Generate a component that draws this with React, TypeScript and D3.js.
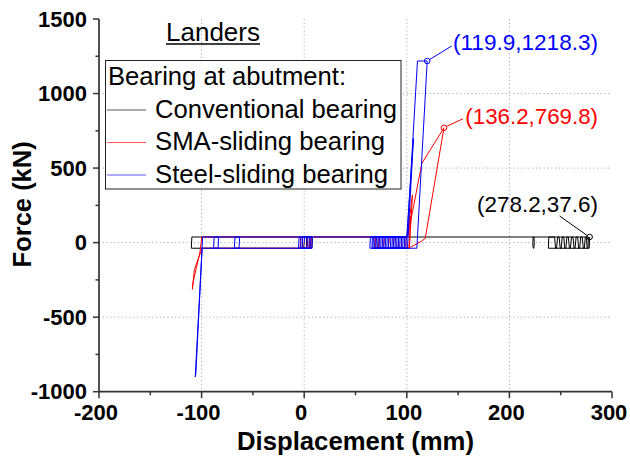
import React from "react";
import * as d3 from "d3";

// ---- data: [displacement (mm), force (kN)] ----
const conventional: [number, number][] = [
  [0, 0], [-0.5, -37.6], [-110, -37.6], [-109.5, 37.6], [8, 37.6], [7.5, -37.6], [2, -37.6], [2.5, 37.6],
  [224, 37.6], [224.3, 0], [223.8, -37.6], [223.2, -37.6], [222.8, 0], [223.2, 37.6],
  [277, 37.6], [276.6, -37.6], [238, -37.6], [238.4, 37.6], [244, 37.6], [245, -37.6], [246, -37.6], [247, 37.6],
  [248.5, 37.6], [249.5, -37.6], [250.5, -37.6], [251.5, 37.6], [253, 37.6], [254, -37.6], [255, -37.6], [256, 37.6],
  [257.5, 37.6], [258.5, -37.6], [259.5, -37.6], [260.5, 37.6], [262, 37.6], [263, -37.6], [264, -37.6], [265, 37.6],
  [266.5, 37.6], [267.5, -37.6], [268.5, -37.6], [269.5, 37.6], [271, 37.6], [272, -37.6], [273, -37.6], [274, 37.6],
  [275, 37.6], [275.8, -37.6], [277.8, -37.6], [278.2, 37.6],
];

const smaSliding: [number, number][] = [
  [0, 0], [0.5, 37.6], [7, 37.6], [6.5, -37.6], [-4, -37.6], [-3.5, 37.6], [5.5, 37.6], [5, -37.6],
  [-2, -37.6], [-1.5, 37.6], [3.5, 37.6], [3, -37.6], [-99.5, -37.6], [-107, -180], [-109, -313],
  [-108.3, -265], [-101.5, -60], [-99.8, 37.6], [100.2, 37.6], [104, 180], [102, -37.6], [69.2, -37.6],
  [69.6, 37.6], [100.5, 37.6], [105.5, 320], [102.5, -37.6], [72.4, -37.6], [72.8, 37.6], [100.8, 37.6],
  [114.7, 532], [136.2, 769.8], [118, 29], [114, 8], [104, -30], [101, -37.6], [77.3, -37.6], [78, 37.6],
  [99.4, 37.6], [99, -37.6], [82.2, -37.6], [83, 37.6], [95.2, 37.6], [94.8, -37.6], [87, -37.6],
  [87.8, 37.6], [92, 37.6], [91.6, -37.6], [89, -37.6],
];

const steelSliding: [number, number][] = [
  [0, 0], [0.5, 37.6], [8, 37.6], [7.5, -37.6], [-5.5, -37.6], [-5, 37.6], [6.5, 37.6], [6, -37.6],
  [-3.5, -37.6], [-3, 37.6], [5, 37.6], [4.5, -37.6], [-2, -37.6], [-1.5, 37.6], [3, 37.6], [2.5, -37.6],
  [-99.5, -37.6], [-106.2, -900], [-105.6, -880], [-99, 37.6], [-83.4, 37.6], [-83.9, -37.6], [-88.3, -37.6],
  [-87.8, 37.6], [-63, 37.6], [-63.5, -37.6], [-68, -37.6], [-67.5, 37.6], [100, 37.6], [106.5, 700],
  [100.6, -37.6], [66, -37.6], [66.5, 37.6], [100.3, 37.6], [110.4, 1218.3], [119.9, 1218.3], [109.8, -37.6],
  [64, -37.6], [64.5, 37.6], [99.5, 37.6], [99, -37.6], [67, -37.6], [67.5, 37.6], [98, 37.6], [97.5, -37.6],
  [68.5, -37.6], [69, 37.6], [96.5, 37.6], [96, -37.6], [70, -37.6], [70.5, 37.6], [95, 37.6], [94.5, -37.6],
  [71.5, -37.6], [72, 37.6], [93.5, 37.6], [93, -37.6], [73, -37.6], [73.5, 37.6], [92, 37.6], [91.5, -37.6],
  [74.5, -37.6], [75, 37.6], [90.5, 37.6], [90, -37.6], [76, -37.6], [76.5, 37.6], [89, 37.6], [88.5, -37.6],
  [77.5, -37.6], [78, 37.6], [87.5, 37.6], [87, -37.6], [79, -37.6], [79.5, 37.6], [86, 37.6], [85.5, -37.6],
  [80.5, -37.6], [81, 37.6], [84.5, 37.6], [84, -37.6], [82, -37.6], [82.5, 37.6],
];

const seriesNames = ["Conventional bearing", "SMA-sliding bearing", "Steel-sliding bearing"];
const seriesColors = ["#000000", "#ff0000", "#0000ff"];
const seriesData = [conventional, smaSliding, steelSliding];

// peak annotations (same order as series)
const peakPoints: [number, number][] = [[278.2, 37.6], [136.2, 769.8], [119.9, 1218.3]];

const xTicks = [-200, -100, 0, 100, 200, 300];
const yTicks = [-1000, -500, 0, 500, 1000, 1500];
const xMinor = [-150, -50, 50, 150, 250];
const yMinor = [-750, -250, 250, 750, 1250];
const xGrid = [-100, 0, 100, 200];
const yGrid = [-500, 0, 500, 1000];

const titleText = "Landers";
const legendTitle = "Bearing at abutment:";
const xLabel = "Displacement (mm)";
const yLabel = "Force (kN)";

// ---- layout ----
const W = 630, H = 461;
const L = 99, R = 612, T = 19, B = 391.7;
const FONT = "'Liberation Sans', Arial, Helvetica, sans-serif";

// label placement per annotation: leader end offset and text baseline y
const annLayout = [
  { lx: -30, ly: -21, ty: 212, len: 121 },
  { lx: 19, ly: -9, ty: 124, len: 132.7 },
  { lx: 24.5, ly: -15, ty: 50, len: 145 },
];
const legendTextLen = [242, 230, 233];

export default function App() {
  const x = d3.scaleLinear().domain([-200, 300]).range([L, R]);
  const y = d3.scaleLinear().domain([-1000, 1500]).range([B, T]);
  const line = d3.line<[number, number]>().x((d) => x(d[0])).y((d) => y(d[1]));
  const axisColor = "#333";

  return (
    <svg width={W} height={H} style={{ position: "absolute", left: 0, top: 0, background: "#fff" }} fontFamily={FONT}>
      <rect x={0} y={0} width={W} height={H} fill="#fff" />
      {/* grid */}
      {xGrid.map((v) => (
        <line key={"gx" + v} x1={x(v)} x2={x(v)} y1={T} y2={B} stroke="#aaa" strokeWidth={1} strokeDasharray="1.2,2.6" />
      ))}
      {yGrid.map((v) => (
        <line key={"gy" + v} x1={L} x2={R} y1={y(v)} y2={y(v)} stroke="#aaa" strokeWidth={1} strokeDasharray="1.2,2.6" />
      ))}

      {/* title */}
      <text x={213} y={41} fontSize={25} textAnchor="middle" textLength={94} lengthAdjust="spacingAndGlyphs" fill="#000">
        {titleText}
      </text>
      <line x1={166} x2={260} y1={44} y2={44} stroke="#000" strokeWidth={1.5} />

      {/* series */}
      {seriesData.map((d, i) => (
        <path key={"s" + i} d={line(d) || ""} fill="none" stroke={seriesColors[i]} strokeWidth={1} strokeLinejoin="round" />
      ))}

      {/* annotations */}
      {peakPoints.map((p, i) => {
        const cx = x(p[0]);
        const cy = y(p[1]);
        const a = annLayout[i];
        return (
          <g key={"a" + i}>
            <circle cx={cx} cy={cy} r={2.8} fill="none" stroke={seriesColors[i]} strokeWidth={1} />
            <line x1={cx + (a.lx > 0 ? 2.5 : -2.5)} y1={cy + (a.ly > 0 ? 2 : -1.5)} x2={cx + a.lx} y2={cy + a.ly} stroke={seriesColors[i]} strokeWidth={1} />
            <text x={598} y={a.ty} fontSize={22.5} textAnchor="end" textLength={a.len} lengthAdjust="spacingAndGlyphs" fill={seriesColors[i]}>
              {`(${p[0]},${p[1]})`}
            </text>
          </g>
        );
      })}

      {/* legend */}
      <rect x={105.5} y={60.5} width={295.5} height={128.5} fill="#fff" stroke="#222" strokeWidth={1} />
      <text x={108} y={85} fontSize={25} textLength={238} lengthAdjust="spacingAndGlyphs" fill="#000">
        {legendTitle}
      </text>
      {seriesNames.map((n, i) => (
        <g key={"l" + i}>
          <line x1={107} x2={146} y1={110 + i * 32.5} y2={110 + i * 32.5} stroke={seriesColors[i]} strokeWidth={1} strokeOpacity={0.65} />
          <text x={155} y={118 + i * 32.4} fontSize={25} textLength={legendTextLen[i]} lengthAdjust="spacingAndGlyphs" fill="#000">
            {n}
          </text>
        </g>
      ))}

      {/* axes */}
      <line x1={L} x2={L} y1={T} y2={B} stroke={axisColor} strokeWidth={1.7} />
      <line x1={L} x2={R} y1={B} y2={B} stroke={axisColor} strokeWidth={1.7} />
      {yTicks.map((v) => (
        <g key={"yt" + v}>
          <line x1={L - 6} x2={L} y1={y(v)} y2={y(v)} stroke={axisColor} strokeWidth={1.5} />
          <text x={87} y={y(v) + 7.5} fontSize={22} fontWeight="bold" textAnchor="end" fill="#000">
            {v}
          </text>
        </g>
      ))}
      {yMinor.map((v) => (
        <line key={"ym" + v} x1={L - 3.5} x2={L} y1={y(v)} y2={y(v)} stroke={axisColor} strokeWidth={1.5} />
      ))}
      {xTicks.map((v) => (
        <g key={"xt" + v}>
          <line x1={x(v)} x2={x(v)} y1={B} y2={B + 6.5} stroke={axisColor} strokeWidth={1.5} />
          <text x={x(v) - 3} y={420} fontSize={22} fontWeight="bold" textAnchor="middle" fill="#000">
            {v}
          </text>
        </g>
      ))}
      {xMinor.map((v) => (
        <line key={"xm" + v} x1={x(v)} x2={x(v)} y1={B} y2={B + 3.5} stroke={axisColor} strokeWidth={1.5} />
      ))}

      {/* axis titles */}
      <text x={(L + R) / 2} y={450} fontSize={25} fontWeight="bold" textAnchor="middle" textLength={237} lengthAdjust="spacingAndGlyphs" fill="#000">
        {xLabel}
      </text>
      <text transform={`translate(31, ${(T + B) / 2 - 1}) rotate(-90)`} fontSize={25.5} fontWeight="bold" textAnchor="middle" fill="#000">
        {yLabel}
      </text>
    </svg>
  );
}
